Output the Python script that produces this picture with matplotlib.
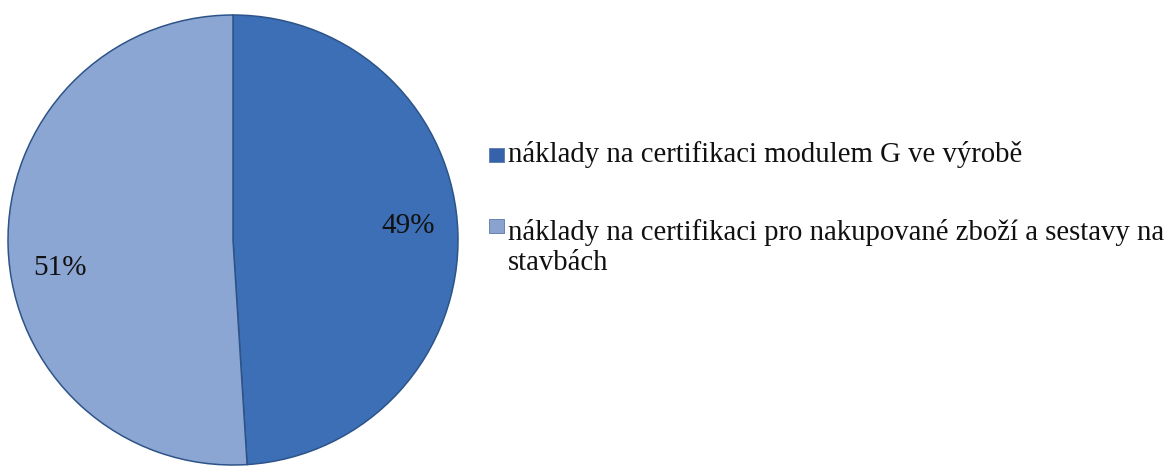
import matplotlib.pyplot as plt
from matplotlib.patches import Rectangle

# podíly nákladů na certifikaci
popisky = [['náklady na certifikaci modulem G ve výrobě'],
           ['náklady na certifikaci pro nakupované zboží a sestavy na', 'stavbách']]
hodnoty = [49, 51]
barvy = ['#3C6FB5', '#8CA6D3']
znacky = ['#3562AA', '#8AA2CE']

plt.rcParams['font.family'] = ['Liberation Serif', 'DejaVu Serif']

W, H = 1176, 471
fig = plt.figure(figsize=(W / 100, H / 100), dpi=100)
ax = fig.add_axes([8 / W, 6 / H, 450 / W, 450 / H])

kolace, texty, procenta = ax.pie(hodnoty, colors=barvy, startangle=90, counterclock=False,
                                 autopct='%.0f%%', pctdistance=0.78,
                                 wedgeprops=dict(edgecolor='#2d5488', linewidth=1.1),
                                 textprops=dict(fontsize=21, color='#111111'))
procenta[0].set_position((0.778, 0.062))
procenta[1].set_position((-0.769, -0.124))
ax.set_xlim(-1.0, 1.0)
ax.set_ylim(-1.0, 1.0)
ax.axis('off')

# legenda vpravo, značka + řádky textu (y v pixelech odshora)
stred_znacky = [155, 226]
uctarie = [[162], [240, 270]]
for i, radky in enumerate(popisky):
    fig.patches.append(Rectangle((489 / W, (H - stred_znacky[i] - 7) / H), 15 / W, 14 / H,
                                 transform=fig.transFigure, facecolor=znacky[i],
                                 edgecolor='#5a78a8', linewidth=0.6))
    for radek, y in zip(radky, uctarie[i]):
        fig.text(508 / W, (H - y) / H, radek, fontsize=20.7, color='#111111',
                 va='baseline', ha='left')

fig.savefig('out.png', dpi=100)
